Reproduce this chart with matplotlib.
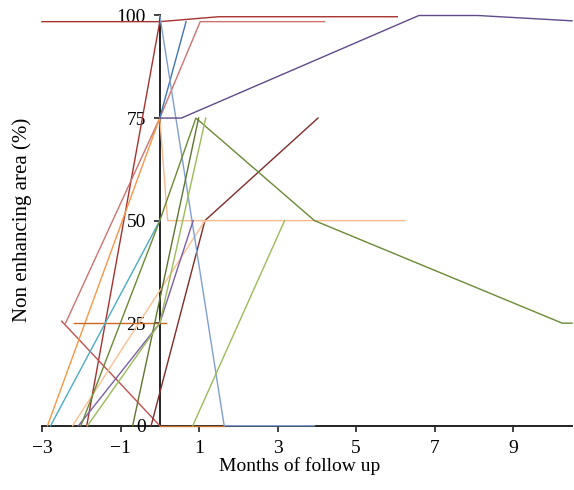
import matplotlib.pyplot as plt

plt.rcParams['font.family'] = ['Liberation Serif', 'DejaVu Serif']

# each patient: months of follow up vs non enhancing area (%)
top_red_x = [-3, 0, 1.5, 6.05]
top_red_y = [98.5, 98.5, 99.7, 99.7]
steep_red_x = [-1.86, 0]
steep_red_y = [0, 98.5]
rosy_x = [-2.4, 0, 1.03, 4.2]
rosy_y = [25, 75, 98.5, 98.5]
red_x = [-2.5, 0]
red_y = [25.5, 0]
maroon_x = [-0.22, 1.15, 4.03]
maroon_y = [0, 50, 75]

orange_x = [-2.86, 0]
orange_y = [0, 75]
peach_x = [0, 0.2, 6.24]
peach_y = [75, 50, 50]
peach2_x = [-2.22, 1.15]
peach2_y = [0, 50]
dark_orange_x = [-2.18, 0.16]
dark_orange_y = [25, 25]
brown_x = [0, 1.64]
brown_y = [0, 0]

blue_x = [0, 0.67]
blue_y = [75, 98.5]
light_blue_x = [0, 1.64, 3.94]
light_blue_y = [100, 0, 0]
aqua_x = [-2.78, 0]
aqua_y = [0, 50]

purple_x = [-2.07, 0, 0.85]
purple_y = [0, 25, 50]
dark_purple_x = [0, 0.55, 6.6, 8.1, 10.5]
dark_purple_y = [75, 75, 100, 100, 98.7]

olive_x = [-2.01, 0, 0.92, 3.94, 10.25, 10.5]
olive_y = [0, 50, 75, 50, 25, 25]
dark_green_x = [-0.69, 0.99]
dark_green_y = [0, 75]
green_x = [-1.84, 0, 1.17]
green_y = [0, 25, 75]
green2_x = [0.84, 3.18]
green2_y = [0, 50]

series = [
    (top_red_x, top_red_y, '#a5322f'),
    (steep_red_x, steep_red_y, '#a5322f'),
    (rosy_x, rosy_y, '#cd7371'),
    (red_x, red_y, '#c0504d'),
    (maroon_x, maroon_y, '#7f2b29'),
    (orange_x, orange_y, '#f79646'),
    (peach_x, peach_y, '#f9b98c'),
    (peach2_x, peach2_y, '#fac090'),
    (dark_orange_x, dark_orange_y, '#c8691f'),
    (brown_x, brown_y, '#c87533'),
    (blue_x, blue_y, '#3f74b4'),
    (light_blue_x, light_blue_y, '#7f9fd0'),
    (aqua_x, aqua_y, '#4bacc6'),
    (purple_x, purple_y, '#7a5fa5'),
    (dark_purple_x, dark_purple_y, '#5f4a8b'),
    (olive_x, olive_y, '#6a8a34'),
    (dark_green_x, dark_green_y, '#5f7530'),
    (green_x, green_y, '#9bbb59'),
    (green2_x, green2_y, '#9bbb59'),
]

fig = plt.figure(figsize=(5.74, 4.9), dpi=100)
ax = fig.add_axes([42 / 574, 64.3 / 490, 530 / 574, 410.2 / 490])

for xs, ys, c in series:
    ax.plot(xs, ys, color=c, lw=1.0, clip_on=False, zorder=2)

ax.set_xlim(-3, 10.5)
ax.set_ylim(0, 100)
ax.spines['left'].set_position(('data', 0))
ax.spines['right'].set_visible(False)
ax.spines['top'].set_visible(False)
for side in ('left', 'bottom'):
    ax.spines[side].set_linewidth(1.4)
    ax.spines[side].set_color('#222222')
    ax.spines[side].set_zorder(1)
ax.set_xticks([-3, -1, 1, 3, 5, 7, 9])
ax.set_xticklabels(['\u22123', '\u22121', '1', '3', '5', '7', '9'])
ax.set_yticks([0, 25, 50, 75, 100])
ax.tick_params(labelsize=14, length=4, width=1.2, color='#222222')
ax.tick_params(axis='x', pad=6)
ax.tick_params(axis='y', pad=6)

fig.text(22 / 574, 1 - 220 / 490, 'Non enhancing area (%)', rotation=90,
         ha='center', va='center', fontsize=15)
fig.text(300 / 574, 1 - 466 / 490, 'Months of follow up', ha='center',
         va='center', fontsize=14)

fig.savefig('out.png', dpi=100)
